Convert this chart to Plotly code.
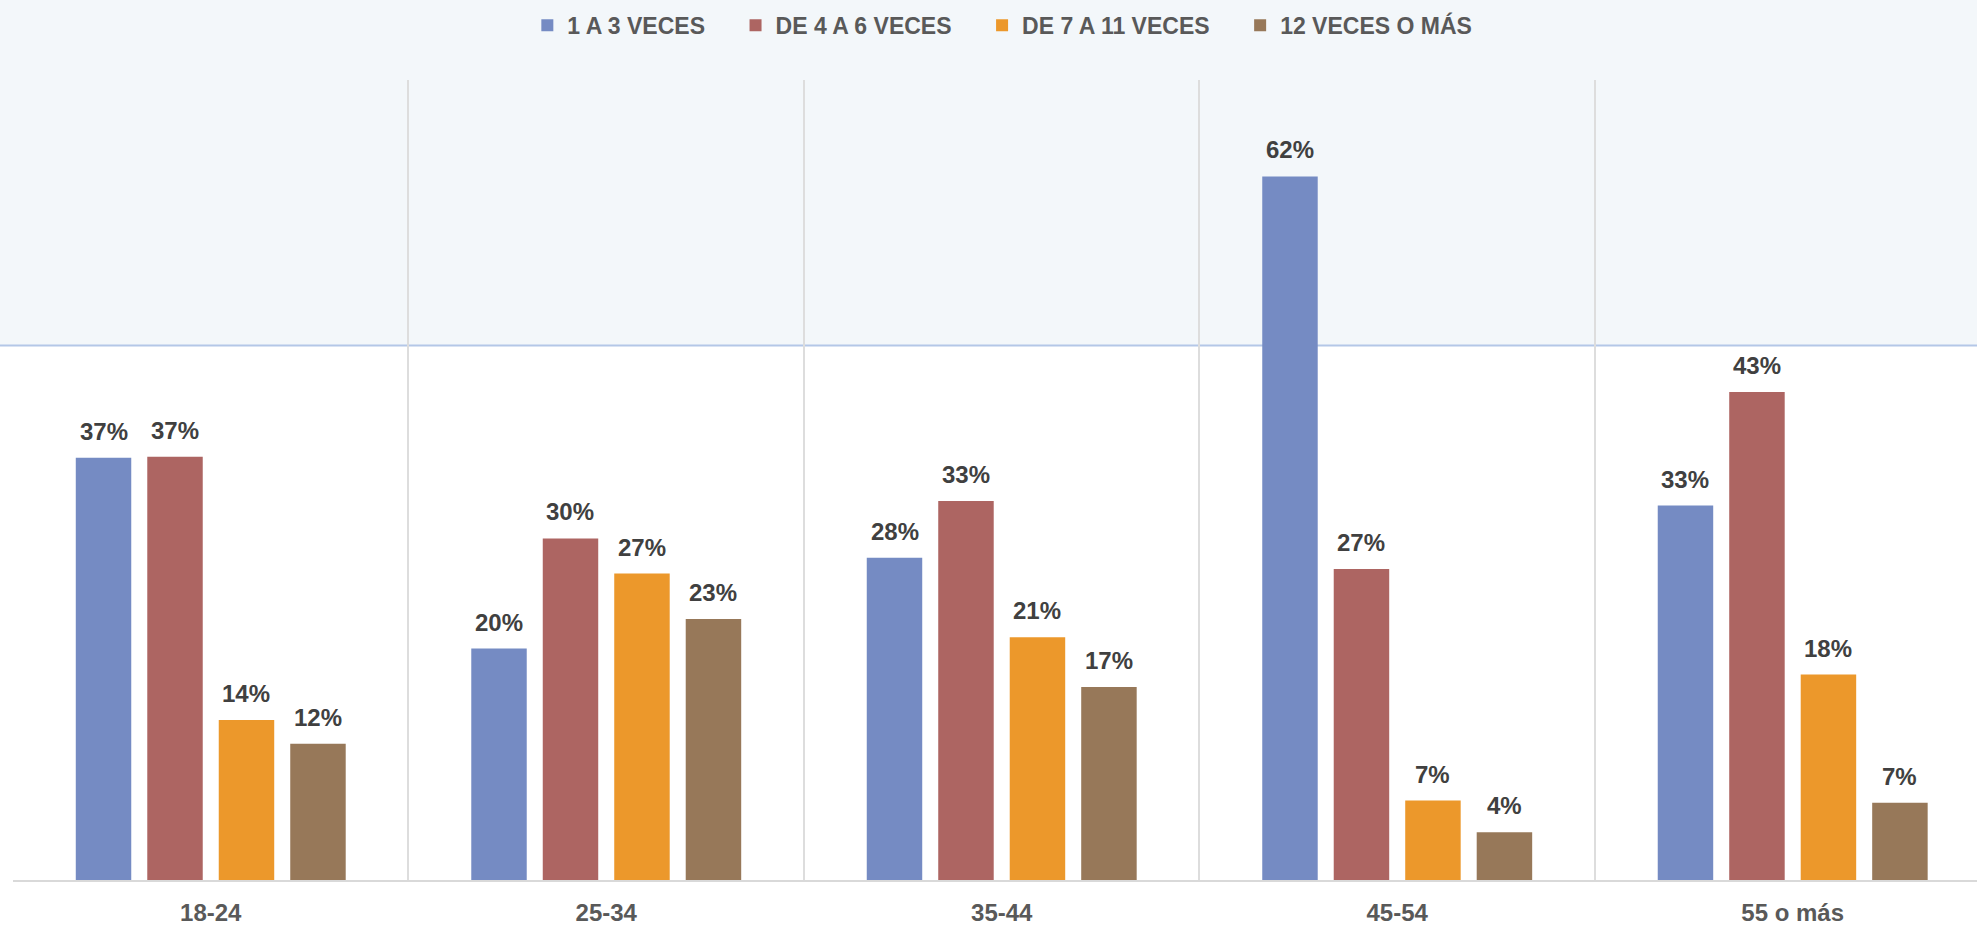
import plotly.graph_objects as go

categories = ["18-24", "25-34", "35-44", "45-54", "55 o más"]
series_names = ["1 A 3 VECES", "DE 4 A 6 VECES", "DE 7 A 11 VECES", "12 VECES O MÁS"]
s1 = [37.2, 20.4, 28.4, 62.0, 33.0]
s2 = [37.3, 30.1, 33.4, 27.4, 43.0]
s3 = [14.1, 27.0, 21.4, 7.0, 18.1]
s4 = [12.0, 23.0, 17.0, 4.2, 6.8]
series_values = [s1, s2, s3, s4]
colors = ["#758BC3", "#AD6562", "#EC982B", "#977859"]

Y_MAX = 70.5
BAND_Y = 47.1
BARGAP = 0.277
BARGROUPGAP = 0.224
FONT = "Liberation Sans, Arial, sans-serif"
PAD = "\u00a0" * 4

fig = go.Figure()
for k, (name, vals, col) in enumerate(zip(series_names, series_values, colors)):
    label = name + (PAD if k < len(series_names) - 1 else "")
    fig.add_trace(go.Bar(
        x=categories, y=vals, name=label,
        marker=dict(color=col, line=dict(width=0)),
        hoverinfo="skip",
    ))

# data labels
n = len(series_values)
slot = (1 - BARGAP) / n
for i, vals in enumerate(series_values):
    for j, v in enumerate(vals):
        fig.add_annotation(
            x=j + (i - (n - 1) / 2) * slot, y=v, xref="x", yref="y",
            text=f"<b>{v:.0f}%</b>", showarrow=False,
            yanchor="bottom", yshift=11,
            font=dict(family=FONT, size=24, color="#404040"),
        )

# background band: white lower part, light upper part
fig.add_shape(type="rect", xref="paper", yref="paper",
              x0=-0.01, x1=1.01, y0=-0.2, y1=BAND_Y / Y_MAX,
              fillcolor="white", line=dict(width=0), layer="below")
fig.add_shape(type="line", xref="paper", yref="paper",
              x0=-0.01, x1=1.01, y0=BAND_Y / Y_MAX, y1=BAND_Y / Y_MAX,
              line=dict(color="#B4C7E7", width=2), layer="below")

fig.update_layout(
    width=1977, height=926,
    margin=dict(l=13, r=0, t=80, b=44),
    paper_bgcolor="#F3F7FA",
    plot_bgcolor="rgba(0,0,0,0)",
    barmode="group", bargap=BARGAP, bargroupgap=BARGROUPGAP,
    showlegend=True,
    legend=dict(
        orientation="h", xref="container", yref="container",
        x=0.507, xanchor="center", y=0.996, yanchor="top",
        font=dict(family=FONT, size=23, color="#595959", weight="bold"),
        bgcolor="rgba(0,0,0,0)", itemwidth=30, traceorder="normal",
    ),
    xaxis=dict(
        type="category", range=[-0.5, 4.466],
        tickson="boundaries", showgrid=True, gridcolor="#DDDDDD", gridwidth=2,
        ticks="", showline=True, linecolor="#D9D9D9", linewidth=2,
        tickfont=dict(family=FONT, size=24, color="#595959", weight="bold"),
        ticklabelstandoff=10,
    ),
    yaxis=dict(
        range=[0, Y_MAX], showgrid=False, zeroline=False,
        showticklabels=False, showline=False, ticks="",
    ),
)

fig.write_html(
    "out.html",
    config={"displayModeBar": False},
    post_script="document.body.style.margin='0';document.body.style.overflow='hidden';",
)
